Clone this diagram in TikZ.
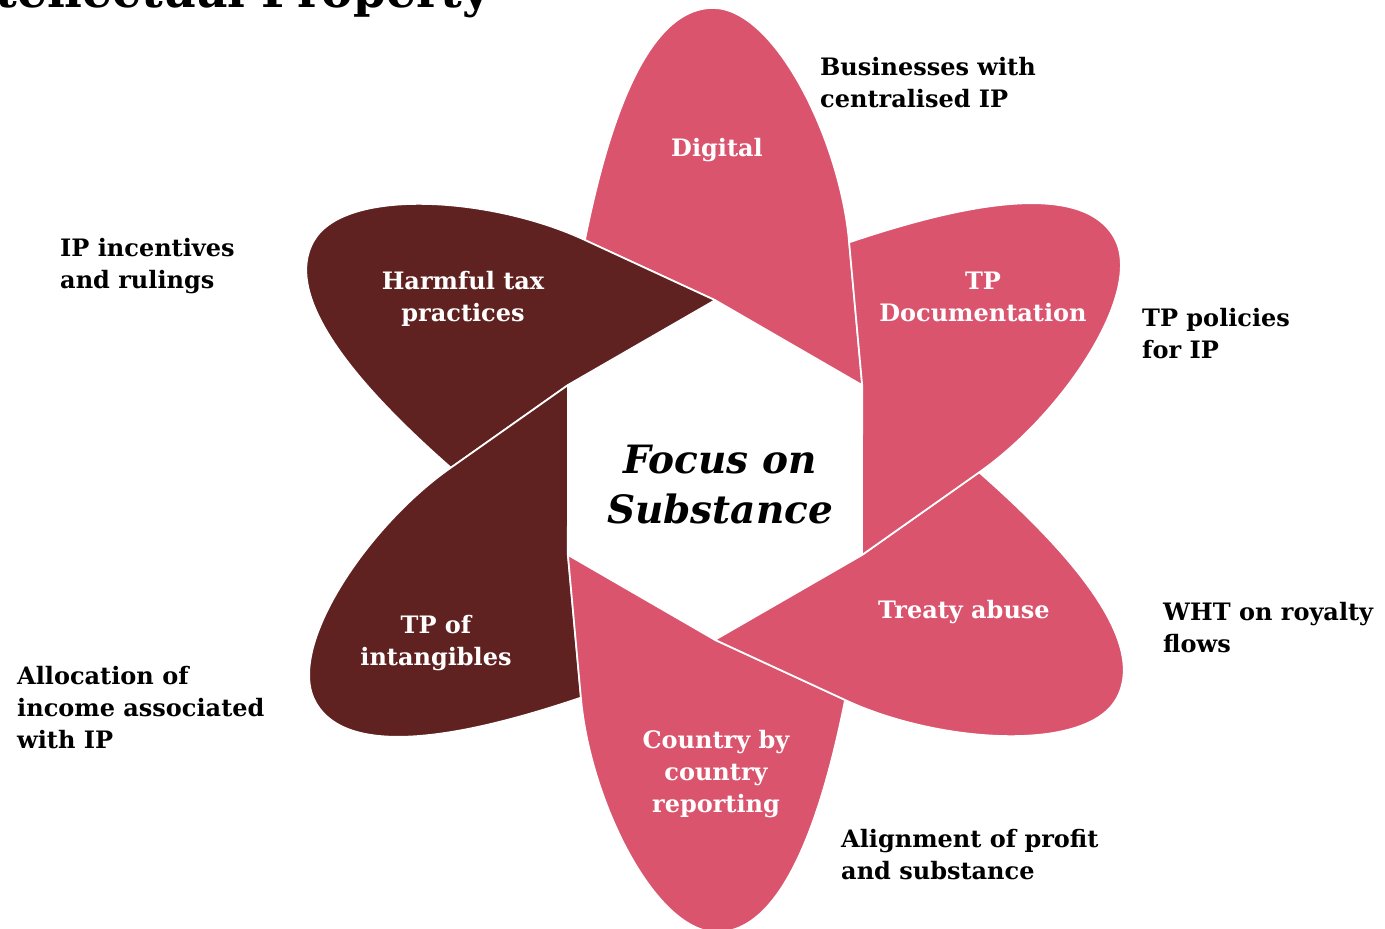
\documentclass[tikz,border=0pt]{standalone}
\usepackage{fontspec}
\setmainfont{DejaVu Serif}
\definecolor{petalpink}{RGB}{218,84,110}
\definecolor{petaldark}{RGB}{96,34,32}
\tikzset{
  petal/.style={draw=white, line width=1.6pt, line join=round},
  plabel/.style={text=white, font=\bfseries\fontsize{24}{32}\selectfont, align=center, inner sep=0pt},
  olabel/.style={text=black, font=\bfseries\fontsize{24}{32}\selectfont, align=left, anchor=west, inner sep=0pt},
}
\newcommand\petalpath{(147,-85) -- (0,-170) -- (-130,-230) .. controls (-108,-340) and (-70,-462) .. (-2,-462) .. controls (60,-462) and (125,-330) .. (134,-228) -- cycle}
\begin{document}
\begin{tikzpicture}[x=1pt, y=-1pt]
\useasboundingbox (0,0) rectangle (1385,929);
\clip (0,0) rectangle (1385,929);
% title (cut off at the top)
\node[anchor=base east, inner sep=0pt, font=\bfseries\fontsize{47}{56}\selectfont] (title) at (490,7) {Intellectual Property};
% petals
\begin{scope}[shift={(715,470)}, rotate=0]
  \fill[petalpink, petal] \petalpath;
\end{scope}
\begin{scope}[shift={(715,470)}, rotate=60]
  \fill[petaldark, petal] \petalpath;
\end{scope}
\begin{scope}[shift={(715,470)}, rotate=120]
  \fill[petaldark, petal] \petalpath;
\end{scope}
\begin{scope}[shift={(715,470)}, rotate=180]
  \fill[petalpink, petal] \petalpath;
\end{scope}
\begin{scope}[shift={(715,470)}, rotate=240]
  \fill[petalpink, petal] \petalpath;
\end{scope}
\begin{scope}[shift={(715,470)}, rotate=300]
  \fill[petalpink, petal] \petalpath;
\end{scope}
% petal labels
\node[plabel] (digital) at (717,150) {Digital};
\node[plabel] (harmful) at (463,299) {Harmful tax\\practices};
\node[plabel] (tpdoc) at (983,297) {TP\\Documentation};
\node[plabel] (treaty) at (964,612) {Treaty abuse};
\node[plabel] (tpint) at (436,643) {TP of\\intangibles};
\node[plabel] (cbc) at (716,774) {Country by\\country\\reporting};
% centre
\node[align=center, inner sep=0pt, font=\bfseries\itshape\fontsize{39}{50}\selectfont] (focus) at (720,485) {Focus on\\Substance};
% outer labels
\node[olabel] (l1) at (820,83) {Businesses with\\centralised IP};
\node[olabel] (l2) at (1142,334) {TP policies\\for IP};
\node[olabel] (l3) at (1163,628) {WHT on royalty\\flows};
\node[olabel] (l4) at (841,855) {Alignment of profit\\and substance};
\node[olabel] (l5) at (17,708) {Allocation of\\income associated\\with IP};
\node[olabel] (l6) at (60,266) {IP incentives\\and rulings};
\end{tikzpicture}
\end{document}
